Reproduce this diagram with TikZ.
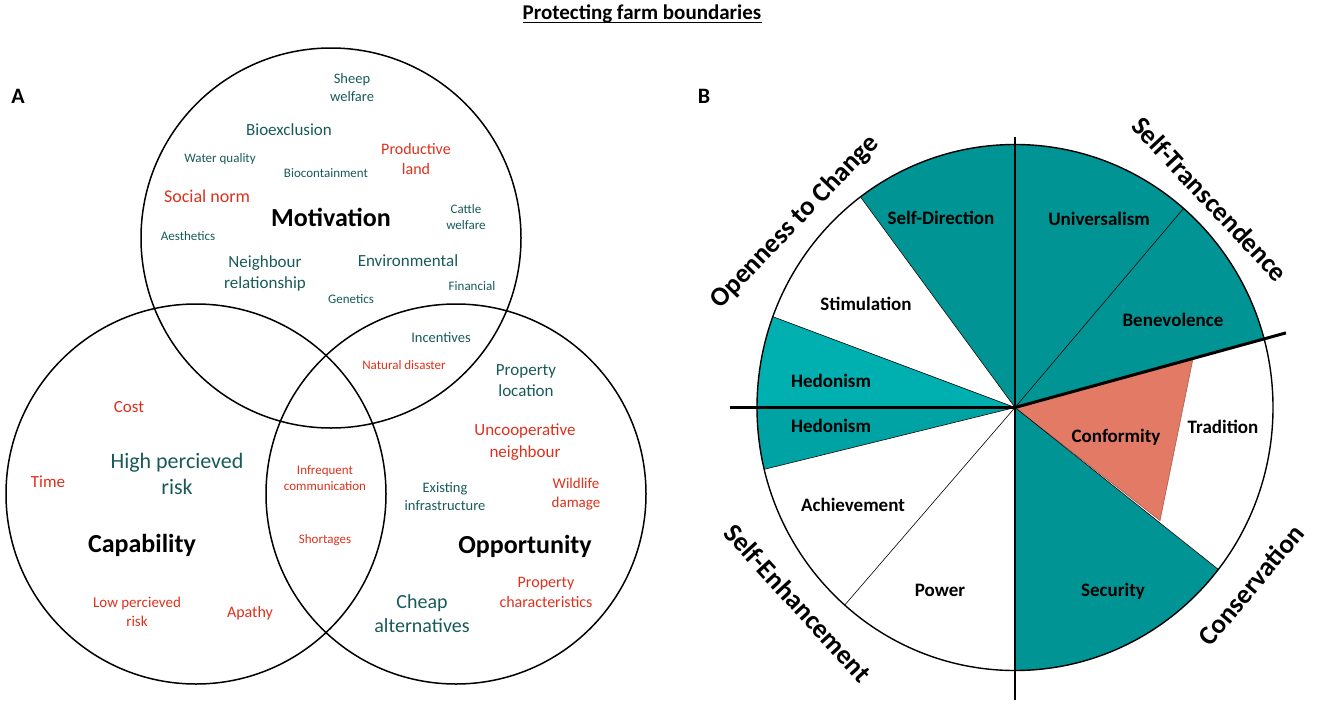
\documentclass[tikz,border=0pt]{standalone}
\usepackage{fontspec}
\setmainfont{Carlito}
\usepackage{tikz}
\definecolor{VennTeal}{RGB}{24,90,90}
\definecolor{VennRed}{RGB}{222,48,28}
\definecolor{PieTeal}{RGB}{0,148,148}
\definecolor{PieHedonA}{RGB}{0,175,175}
\definecolor{PieHedonB}{RGB}{0,163,163}
\definecolor{PieConform}{RGB}{226,122,102}

\begin{document}
\begin{tikzpicture}[x=1pt,y=-1pt,
  vt/.style n args={3}{text=#1,font=\fontsize{#2}{#3}\selectfont,align=center,inner sep=0pt},
  hd/.style={font=\fontsize{26}{30}\selectfont\bfseries,inner sep=0pt},
  sl/.style={font=\fontsize{19}{22}\selectfont\bfseries,inner sep=0pt},
  grp/.style={font=\fontsize{27}{30}\selectfont\bfseries,inner sep=0pt},
  seg/.style={draw=black,line width=0.6pt},
  ring/.style={draw=black,line width=1.5pt}]
\useasboundingbox (0,0) rectangle (1325,715);

\node[font=\fontsize{21}{24}\selectfont\bfseries,inner sep=0pt] (ttl) at (642,14) {Protecting farm boundaries};
\draw[line width=1.4pt] ([yshift=-3pt]ttl.base west) -- ([yshift=-3pt]ttl.base east);
\node[font=\fontsize{22}{24}\selectfont\bfseries,inner sep=0pt] (pa) at (18,96) {A};
\node[font=\fontsize{22}{24}\selectfont\bfseries,inner sep=0pt] (pb) at (704,96) {B};

% venn
\coordinate (mot) at (331,238);
\coordinate (cap) at (196,494);
\coordinate (opp) at (456,494);
\foreach \c in {mot,cap,opp}
  \draw[ring] (\c) circle[radius=190];

\foreach \x/\y/\t [count=\i] in {220/159/Water quality,326/173/Biocontainment,188/236/Aesthetics,
  466/217/{Cattle\\welfare},472/286/Financial,351/299/Genetics}
  \node[vt={VennTeal}{13}{16}] (ta\i) at (\x,\y) {\t};
\foreach \x/\y/\t [count=\i] in {352/88/{Sheep\\welfare},441/338/Incentives,445/497/{Existing\\infrastructure}}
  \node[vt={VennTeal}{14.5}{18}] (tb\i) at (\x,\y) {\t};
\foreach \x/\y/\t [count=\i] in {289/130/Bioexclusion,265/273/{Neighbour\\relationship},
  408/261/Environmental,526/381/{Property\\location}}
  \node[vt={VennTeal}{17}{21}] (tc\i) at (\x,\y) {\t};
\node[vt={VennTeal}{20}{24}] (td1) at (422,614) {Cheap\\alternatives};
\node[vt={VennTeal}{22}{26}] (td2) at (177,474) {High percieved\\risk};

\foreach \x/\y/\t [count=\i] in {404/365/Natural disaster,325/478/{Infrequent\\communication},325/540/Shortages}
  \node[vt={VennRed}{13}{16.5}] (ra\i) at (\x,\y) {\t};
\foreach \x/\y/\t [count=\i] in {137/612/{Low percieved\\risk},576/494/{Wildlife\\damage}}
  \node[vt={VennRed}{15}{19}] (rb\i) at (\x,\y) {\t};
\foreach \x/\y/\t [count=\i] in {416/159/{Productive\\land},546/592/{Property\\characteristics},250/613/Apathy}
  \node[vt={VennRed}{16}{20}] (rc\i) at (\x,\y) {\t};
\foreach \x/\y/\t [count=\i] in {129/407/Cost,48/482/Time,525/442/{Uncooperative\\neighbour}}
  \node[vt={VennRed}{17}{22}] (rd\i) at (\x,\y) {\t};
\node[vt={VennRed}{18}{22}] (re1) at (207,196) {Social norm};

\node[hd] (hmot) at (331,217) {Motivation};
\node[hd] (hcap) at (142,545) {Capability};
\node[hd] (hopp) at (525,546) {Opportunity};

% values pie
\begin{scope}[shift={(1015,407.5)},yscale=-1]
\coordinate (pc) at (0,0);
\foreach \a/\b/\c in {90/126.8/PieTeal,126.8/159.8/white,159.8/180/PieHedonA,180/193.6/PieHedonB,
  193.6/228.7/white,228.7/270/white,270/322/PieTeal,322/375.4/white,375.4/409.2/PieTeal,409.2/450/PieTeal}
  \fill[\c] (pc) -- (\a:258 and 263) arc[start angle=\a,end angle=\b,x radius=258,y radius=263] -- cycle;
\filldraw[fill=PieConform,draw=PieConform!75!black,line width=0.6pt] (pc) -- (145,-113) -- (178,49) -- cycle;
\foreach \a in {126.8,159.8,193.6,228.7,322,49.2}
  \draw[seg] (pc) -- (\a:258 and 263);
\draw[line width=1.4pt] (pc) ellipse[x radius=258,y radius=263];
\draw[line width=3pt] (pc) -- (15.4:281);
\draw[line width=3pt] (pc) -- (180:285);
\draw[line width=2.5pt] (0,270.5) -- (0,-292.5);
\end{scope}

\foreach \x/\y/\t [count=\i] in {941/218/Self-Direction,1099/219/Universalism,866/304/Stimulation,
  1173/320/Benevolence,831/381/Hedonism,831/426/Hedonism,1116/437/Conformity,1223/427/Tradition,
  853/505/Achievement,940/590/Power,1113/591/Security}
  \node[sl] (v\i) at (\x,\y) {\t};

\node[grp,rotate=46] (g1) at (795,222) {Openness to Change};
\node[grp,rotate=-47] (g2) at (1210,199) {Self-Transcendence};
\node[grp,rotate=-47.5] (g3) at (798,603) {Self-Enhancement};
\node[grp,rotate=50] (g4) at (1251,585) {Conservation};
\end{tikzpicture}
\end{document}
